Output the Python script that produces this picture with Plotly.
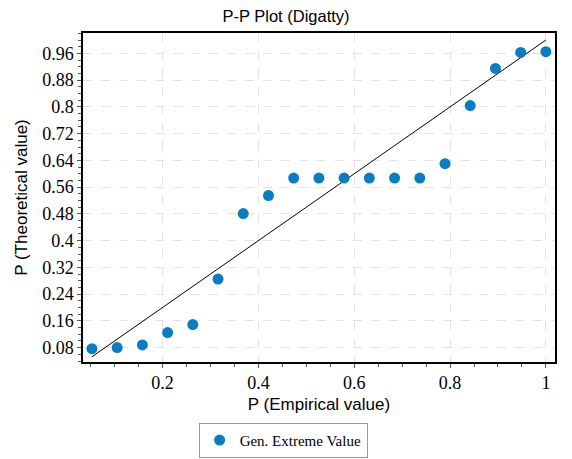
import plotly.graph_objects as go

n = 19
empirical = [i / n for i in range(1, n + 1)]
theoretical = [0.077, 0.08, 0.088, 0.125, 0.149, 0.285, 0.481, 0.535, 0.587, 0.587,
               0.587, 0.587, 0.587, 0.587, 0.630, 0.804, 0.915, 0.963, 0.965]
ref_line = [empirical[0], 1.0]

x_ticks = [0.2, 0.4, 0.6, 0.8, 1.0]
x_labels = ["0.2", "0.4", "0.6", "0.8", "1"]
y_ticks = [0.08, 0.16, 0.24, 0.32, 0.4, 0.48, 0.56, 0.64, 0.72, 0.8, 0.88, 0.96]
y_labels = ["0.08", "0.16", "0.24", "0.32", "0.4", "0.48", "0.56", "0.64", "0.72", "0.8", "0.88", "0.96"]

SERIF = "Liberation Serif"
SANS = "Liberation Sans"

fig = go.Figure()
fig.add_trace(go.Scatter(x=ref_line, y=ref_line, mode="lines",
                         line=dict(color="black", width=1), showlegend=False))
fig.add_trace(go.Scatter(x=empirical, y=theoretical, mode="markers",
                         marker=dict(color="#0a7dc0", size=11),
                         name="Gen. Extreme Value"))

axis_common = dict(
    showline=True, linecolor="black", linewidth=1.5, mirror=True,
    ticks="outside", ticklen=4, tickcolor="#555",
    showgrid=True, gridcolor="#e3e3e3", griddash="dash", gridwidth=1,
    zeroline=False, automargin=False,
)

fig.update_xaxes(range=[0.034, 1.019], tickvals=x_ticks, ticktext=x_labels,
                 minor=dict(dtick=0.05, tick0=0, ticks="outside", ticklen=3, tickcolor="#555", showgrid=False),
                 title=dict(text="P (Empirical value)", standoff=6,
                            font=dict(family=SANS, size=17, color="black")),
                 **axis_common)
fig.update_yaxes(range=[0.037, 1.021], tickvals=y_ticks, ticktext=y_labels,
                 minor=dict(dtick=0.02, tick0=0, ticks="outside", ticklen=3, tickcolor="#555", showgrid=False),
                 title=dict(text="P (Theoretical value)", standoff=10,
                            font=dict(family=SANS, size=17, color="black")),
                 **axis_common)

fig.update_layout(
    width=572, height=459,
    font=dict(family=SERIF, color="black"),
    margin=dict(l=83, r=17, t=33, b=97, autoexpand=False),
    paper_bgcolor="white", plot_bgcolor="white",
    xaxis_tickfont=dict(family=SERIF, size=18, color="black"),
    yaxis_tickfont=dict(family=SERIF, size=18, color="black"),
    title=dict(text="P-P Plot (Digatty)", x=0.5, xref="container", xanchor="center",
               y=1 - 16 / 459, yref="container", yanchor="middle",
               font=dict(family=SANS, size=16.5, color="black")),
    legend=dict(orientation="h", x=0.424, xref="paper", xanchor="center",
                y=-0.185, yanchor="top", itemwidth=30,
                bordercolor="#999", borderwidth=1,
                font=dict(family=SERIF, size=15, color="black")),
)

fig.write_html("out.html")
